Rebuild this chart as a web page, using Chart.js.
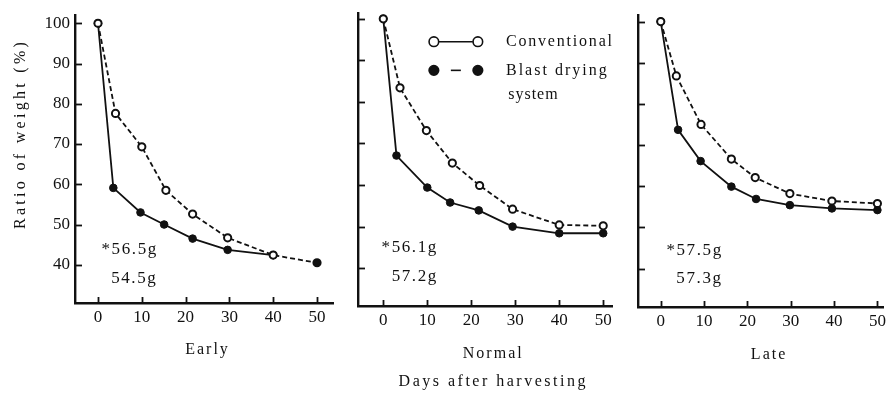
<!DOCTYPE html>
<html>
<head>
<meta charset="utf-8">
<script src="https://cdn.jsdelivr.net/npm/chart.js@4.4.1/dist/chart.umd.min.js"></script>
<style>
  html, body { margin: 0; padding: 0; background: #fff; }
  #wrap { position: relative; width: 890px; height: 395px; overflow: hidden; }
  #wrap canvas { position: absolute; left: 0; top: 0; }
</style>
</head>
<body>
<div id="wrap">
  <canvas id="early" width="890" height="395"></canvas>
  <canvas id="normal" width="890" height="395"></canvas>
  <canvas id="late" width="890" height="395"></canvas>
</div>
<script>
const SERIF = "'Liberation Serif', 'DejaVu Serif', serif";
const INK = "#111";

// tick values shared by the three panels
const dayTicks = [0, 10, 20, 30, 40, 50];
const ratioTicks = [40, 50, 60, 70, 80, 90, 100];

// Early harvest: days after harvesting vs ratio of weight (%)
const earlyConvDays = [0, 4, 10, 15.5, 21.6, 29.6, 40, 50];
const earlyConvRatio = [100, 77.6, 69.3, 58.5, 52.6, 46.7, 42.4, 40.5];
const earlyBlastDays = [0, 3.5, 9.7, 15.1, 21.6, 29.6, 40];
const earlyBlastRatio = [100, 59.1, 53.0, 50.0, 46.5, 43.7, 42.4];

// Normal harvest
const normalConvDays = [0, 3.8, 9.8, 15.7, 21.9, 29.4, 40, 50];
const normalConvRatio = [100, 83.4, 73.1, 65.3, 59.9, 54.2, 50.4, 50.2];
const normalBlastDays = [0, 3.0, 10, 15.2, 21.7, 29.4, 40, 50];
const normalBlastRatio = [100, 67.1, 59.4, 55.8, 53.9, 50.0, 48.4, 48.4];

// Late harvest
const lateConvDays = [0, 3.6, 9.3, 16.3, 21.8, 29.8, 39.5, 50];
const lateConvRatio = [100, 86.8, 75.0, 66.6, 62.1, 58.2, 56.4, 55.8];
const lateBlastDays = [0, 4.0, 9.2, 16.3, 22.0, 29.8, 39.5, 50];
const lateBlastRatio = [100, 73.7, 66.1, 59.9, 56.9, 55.4, 54.6, 54.2];

// grain weights printed in each panel (* = conventional)
const panelNames = ["Early", "Normal", "Late"];
const convWeights = ["*56.5g", "*56.1g", "*57.5g"];
const blastWeights = ["54.5g", "57.2g", "57.3g"];

const legendLabels = ["Conventional", "Blast drying", "system"];
const yTitle = "Ratio of weight (%)";
const xTitle = "Days after harvesting";

function toPoints(xs, ys) {
  return xs.map((x, i) => ({ x: x, y: ys[i] }));
}

// inward tick marks, printed notes, legend and titles
const paperMarks = {
  id: "paperMarks",
  afterDraw(chart, args, opts) {
    const ctx = chart.ctx;
    const xs = chart.scales.x;
    const ys = chart.scales.y;
    const area = chart.chartArea;

    ctx.save();
    ctx.strokeStyle = INK;
    ctx.lineWidth = 1.8;
    ys.ticks.forEach((t) => {
      const py = Math.round(ys.getPixelForValue(t.value)) + 0.5;
      ctx.beginPath();
      ctx.moveTo(area.left, py);
      ctx.lineTo(area.left + 7, py);
      ctx.stroke();
    });
    xs.ticks.forEach((t) => {
      const px = Math.round(xs.getPixelForValue(t.value)) + 0.5;
      ctx.beginPath();
      ctx.moveTo(px, area.bottom);
      ctx.lineTo(px, area.bottom - 6);
      ctx.stroke();
    });

    ctx.fillStyle = INK;
    ctx.textBaseline = "middle";
    (opts.texts || []).forEach((tx) => {
      ctx.font = (tx.size || 17) + "px " + SERIF;
      ctx.letterSpacing = (tx.spacing || 0) + "px";
      ctx.textAlign = tx.align || "left";
      const px = xs.getPixelForValue(tx.x);
      const py = tx.below !== undefined ? area.bottom + tx.below : ys.getPixelForValue(tx.y);
      ctx.fillText(tx.text, px, py);
    });

    if (opts.yTitle) {
      const t = opts.yTitle;
      ctx.save();
      ctx.translate(area.left + t.dx, ys.getPixelForValue(t.y));
      ctx.rotate(-Math.PI / 2);
      ctx.font = "16px " + SERIF;
      ctx.letterSpacing = "3.3px";
      ctx.textAlign = "center";
      ctx.fillText(t.text, 0, 0);
      ctx.restore();
    }

    if (opts.legend) {
      const lg = opts.legend;
      lg.rows.forEach((row) => {
        const x1 = xs.getPixelForValue(lg.x1);
        const x2 = xs.getPixelForValue(lg.x2);
        const py = ys.getPixelForValue(row.y);
        ctx.lineWidth = 1.6;
        ctx.setLineDash([]);
        ctx.beginPath();
        if (row.filled) {
          const mid = (x1 + x2) / 2;
          ctx.moveTo(mid - 5, py);
          ctx.lineTo(mid + 5, py);
        } else {
          ctx.moveTo(x1 + 5, py);
          ctx.lineTo(x2 - 5, py);
        }
        ctx.stroke();
        [x1, x2].forEach((cx) => {
          ctx.beginPath();
          ctx.arc(cx, py, 4.8, 0, Math.PI * 2);
          ctx.fillStyle = row.filled ? INK : "#fff";
          ctx.fill();
          ctx.stroke();
        });
      });
    }
    ctx.restore();
  },
};

function makePanel(canvasId, p) {
  return new Chart(document.getElementById(canvasId), {
    type: "line",
    data: {
      datasets: [
        {
          label: "Conventional",
          data: p.conv,
          borderColor: INK,
          borderWidth: 1.8,
          borderDash: [5, 3],
          pointRadius: 3.6,
          pointBorderWidth: 2,
          pointBorderColor: INK,
          pointBackgroundColor: p.convFill || "#fff",
          tension: 0,
        },
        {
          label: "Blast drying system",
          data: p.blast,
          borderColor: INK,
          borderWidth: 1.8,
          pointRadius: 3.8,
          pointBorderWidth: 1,
          pointBorderColor: INK,
          pointBackgroundColor: INK,
          tension: 0,
        },
      ],
    },
    options: {
      responsive: false,
      animation: false,
      devicePixelRatio: 1,
      events: [],
      layout: {
        autoPadding: false,
        padding: {
          left: p.area.left - p.yWidth,
          right: 890 - p.area.right,
          top: p.area.top,
          bottom: 0,
        },
      },
      scales: {
        x: {
          type: "linear",
          min: p.xRange[0],
          max: p.xRange[1],
          afterBuildTicks: (s) => {
            s.ticks = dayTicks.map((v) => ({ value: v }));
          },
          afterFit: (s) => {
            s.height = 395 - p.area.bottom;
          },
          grid: { display: false, drawTicks: false },
          border: { display: true, color: INK, width: 2.4 },
          ticks: { font: { family: SERIF, size: 17 }, color: INK, padding: 4, maxRotation: 0 },
        },
        y: {
          type: "linear",
          min: p.yRange[0],
          max: p.yRange[1],
          afterBuildTicks: (s) => {
            s.ticks = ratioTicks.map((v) => ({ value: v }));
          },
          afterFit: (s) => {
            s.width = p.yWidth;
          },
          grid: { display: false, drawTicks: false },
          border: { display: true, color: INK, width: 2.4 },
          ticks: { display: p.yLabels, font: { family: SERIF, size: 17 }, color: INK, padding: 5 },
        },
      },
      plugins: {
        legend: { display: false },
        tooltip: { enabled: false },
        paperMarks: p.marks,
      },
    },
    plugins: [paperMarks],
  });
}

makePanel("early", {
  conv: toPoints(earlyConvDays, earlyConvRatio),
  blast: toPoints(earlyBlastDays, earlyBlastRatio),
  convFill: (c) => (c.raw && c.raw.x === 50 ? INK : "#fff"),
  area: { left: 75, right: 333, top: 10, bottom: 303 },
  yWidth: 75,
  yLabels: true,
  xRange: [-5.25, 53.65],
  yRange: [30.5, 102],
  marks: {
    texts: [
      { text: convWeights[0], x: 0.8, y: 43.9, spacing: 1.6 },
      { text: blastWeights[0], x: 3.0, y: 36.6, spacing: 1.6 },
      { text: panelNames[0], x: 25, below: 47, align: "center", size: 16, spacing: 2 },
    ],
    yTitle: { text: yTitle, dx: -54, y: 72.5 },
  },
});

makePanel("normal", {
  conv: toPoints(normalConvDays, normalConvRatio),
  blast: toPoints(normalBlastDays, normalBlastRatio),
  area: { left: 358, right: 612, top: 13, bottom: 306 },
  yWidth: 0,
  yLabels: false,
  xRange: [-5.75, 52],
  yRange: [30.9, 101.4],
  marks: {
    texts: [
      { text: convWeights[1], x: -0.4, y: 44.9, spacing: 1.6 },
      { text: blastWeights[1], x: 1.9, y: 37.9, spacing: 1.6 },
      { text: panelNames[1], x: 25, below: 48, align: "center", size: 16, spacing: 2 },
      { text: xTitle, x: 25, below: 76, align: "center", size: 16, spacing: 2.5 },
      { text: legendLabels[0], x: 27.9, y: 94.5, size: 16, spacing: 1.8 },
      { text: legendLabels[1], x: 27.9, y: 87.6, size: 16, spacing: 2 },
      { text: legendLabels[2], x: 28.4, y: 81.8, size: 16, spacing: 1 },
    ],
    legend: {
      x1: 11.5,
      x2: 21.5,
      rows: [
        { y: 94.5, filled: false },
        { y: 87.6, filled: true },
      ],
    },
  },
});

makePanel("late", {
  conv: toPoints(lateConvDays, lateConvRatio),
  blast: toPoints(lateBlastDays, lateBlastRatio),
  area: { left: 638, right: 886, top: 15, bottom: 307 },
  yWidth: 0,
  yLabels: false,
  xRange: [-5.25, 51.4],
  yRange: [30.65, 101.6],
  marks: {
    texts: [
      { text: convWeights[2], x: 1.3, y: 44.4, spacing: 1.6 },
      { text: blastWeights[2], x: 3.6, y: 37.6, spacing: 1.6 },
      { text: panelNames[2], x: 25, below: 48, align: "center", size: 16, spacing: 2 },
    ],
  },
});
</script>
</body>
</html>
